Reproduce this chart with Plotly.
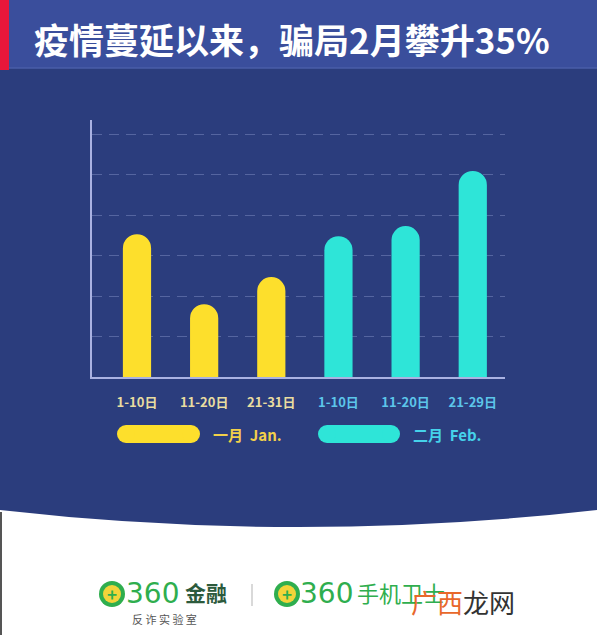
import plotly.graph_objects as go

# ---- data ----
periods = ["1-10日", "11-20日", "21-31日", "1-10日", "11-20日", "21-29日"]
jan_values = [3.53, 1.80, 2.47]
feb_values = [3.48, 3.73, 5.09]
jan_pos = [0, 1, 2]
feb_pos = [3, 4, 5]
title_text = "疫情蔓延以来，骗局2月攀升35%"
legend_names = ["一月  Jan.", "二月  Feb."]

W, H = 597, 635
L, R, T, B = 92, 505, 120, 377  # plot area in pixels


def px(x):
    return (x - L) / (R - L)


def py(y):
    return (B - y) / (B - T)


FONT = "Noto Sans CJK SC"
YELLOW = "#fddf2c"
CYAN = "#2ee5d8"
NAVY = "#2b3d7d"
BAND = "#3a4e9c"
GREEN = "#2fae4e"

fig = go.Figure()
fig.add_trace(go.Bar(x=jan_pos, y=jan_values, marker=dict(color=YELLOW, line=dict(width=0)),
                     width=0.42, name=legend_names[0], showlegend=False, hoverinfo="skip"))
fig.add_trace(go.Bar(x=feb_pos, y=feb_values, marker=dict(color=CYAN, line=dict(width=0)),
                     width=0.42, name=legend_names[1], showlegend=False, hoverinfo="skip"))

tick_colors = ["#e9dca0"] * 3 + ["#5cc6ea"] * 3
ticktext = [f"<span style='color:{c}'>{t}</span>" for t, c in zip(periods, tick_colors)]

shapes = []
# navy background with curved bottom
shapes.append(dict(
    type="path", xref="paper", yref="paper", layer="below",
    path=(f"M {px(0)},{py(60)} L {px(W)},{py(60)} L {px(W)},{py(510)} "
          f"Q {px(298)},{py(544)} {px(0)},{py(510)} Z"),
    fillcolor=NAVY, line=dict(width=0)))
# title band
shapes.append(dict(type="rect", xref="paper", yref="paper", layer="below",
                   x0=px(0), x1=px(W), y0=py(0), y1=py(68),
                   fillcolor=BAND, line=dict(width=0)))
shapes.append(dict(type="line", xref="paper", yref="paper", layer="below",
                   x0=px(0), x1=px(W), y0=py(68), y1=py(68),
                   line=dict(color="#4a5ea8", width=1.5)))
# red strip
shapes.append(dict(type="rect", xref="paper", yref="paper", layer="below",
                   x0=px(0), x1=px(9), y0=py(0), y1=py(70),
                   fillcolor="#e8173a", line=dict(width=0)))
# left edge line in white area
shapes.append(dict(type="line", xref="paper", yref="paper", layer="below",
                   x0=px(1), x1=px(1), y0=py(512), y1=py(H),
                   line=dict(color="#555555", width=2)))

# legend pills
for (x0, x1, col) in [(117, 200, YELLOW), (318, 400, CYAN)]:
    yc, r = 434, 9
    shapes.append(dict(type="rect", xref="paper", yref="paper",
                       x0=px(x0 + r), x1=px(x1 - r), y0=py(yc - r), y1=py(yc + r),
                       fillcolor=col, line=dict(width=0)))
    for cx in (x0 + r, x1 - r):
        shapes.append(dict(type="circle", xref="paper", yref="paper",
                           x0=px(cx - r), x1=px(cx + r), y0=py(yc - r), y1=py(yc + r),
                           fillcolor=col, line=dict(width=0)))

# logo icons
for cx in (112, 287):
    cy = 594
    shapes.append(dict(type="circle", xref="paper", yref="paper",
                       x0=px(cx - 13), x1=px(cx + 13), y0=py(cy - 13), y1=py(cy + 13),
                       fillcolor=GREEN, line=dict(width=0)))
    shapes.append(dict(type="circle", xref="paper", yref="paper",
                       x0=px(cx - 9), x1=px(cx + 9), y0=py(cy - 9), y1=py(cy + 9),
                       fillcolor="#f2d43a", line=dict(width=0)))
# separator
shapes.append(dict(type="line", xref="paper", yref="paper",
                   x0=px(252), x1=px(252), y0=py(584), y1=py(606),
                   line=dict(color="#cccccc", width=1.5)))


def ann(text, x, y, size, color, xanchor="left", family=FONT):
    return dict(text=text, x=px(x), y=py(y), xref="paper", yref="paper", showarrow=False,
                font=dict(family=family, size=size, color=color),
                xanchor=xanchor, yanchor="middle")


annotations = [
    ann(f"<b>{title_text}</b>", 292, 38, 35, "white", "center"),
    ann(f"<b>{legend_names[0]}</b>", 211, 434, 15, "#f2d04a"),
    ann(f"<b>{legend_names[1]}</b>", 411, 434, 15, "#45d2ea"),
    # logos
    ann("<b>+</b>", 112, 593, 17, GREEN, "center"),
    ann("<b>+</b>", 287, 593, 17, GREEN, "center"),
    ann("360", 124, 593, 28, GREEN, family="DejaVu Sans"),
    ann("<b>金融</b>", 183, 592, 21, "#2c5a3c"),
    ann("反 诈 实 验 室", 130, 619, 11, "#555555"),
    ann("360", 298, 593, 28, GREEN, family="DejaVu Sans"),
    ann("手机卫士", 355, 592, 22, GREEN),
    ann("<span style='color:#e8682b'>广西</span><span style='color:#333333'>龙网</span>",
        409, 601, 26, "#333333"),
]

fig.update_layout(
    width=W, height=H,
    margin=dict(l=L, r=W - R, t=T, b=H - B, pad=0),
    paper_bgcolor="white", plot_bgcolor="rgba(0,0,0,0)",
    barcornerradius=14,
    showlegend=False,
    shapes=shapes, annotations=annotations,
    font=dict(family=FONT),
)
fig.update_xaxes(
    range=[-0.67, 5.48], tickvals=list(range(6)), ticktext=ticktext,
    showgrid=False, zeroline=False, showline=True, linecolor="#aab2e2", linewidth=2,
    ticks="", ticklabelstandoff=12,
    tickfont=dict(family=FONT, size=13, weight=700),
)
fig.update_yaxes(
    range=[0, 6.35], dtick=1, showticklabels=False, ticks="",
    showgrid=True, gridcolor="rgba(120,135,190,0.55)", gridwidth=1, griddash="10px,7px",
    zeroline=False, showline=True, linecolor="#aab2e2", linewidth=2,
)

fig.write_html("out.html", config={"displayModeBar": False},
               post_script="document.body.style.margin='0';document.body.style.padding='0';")
